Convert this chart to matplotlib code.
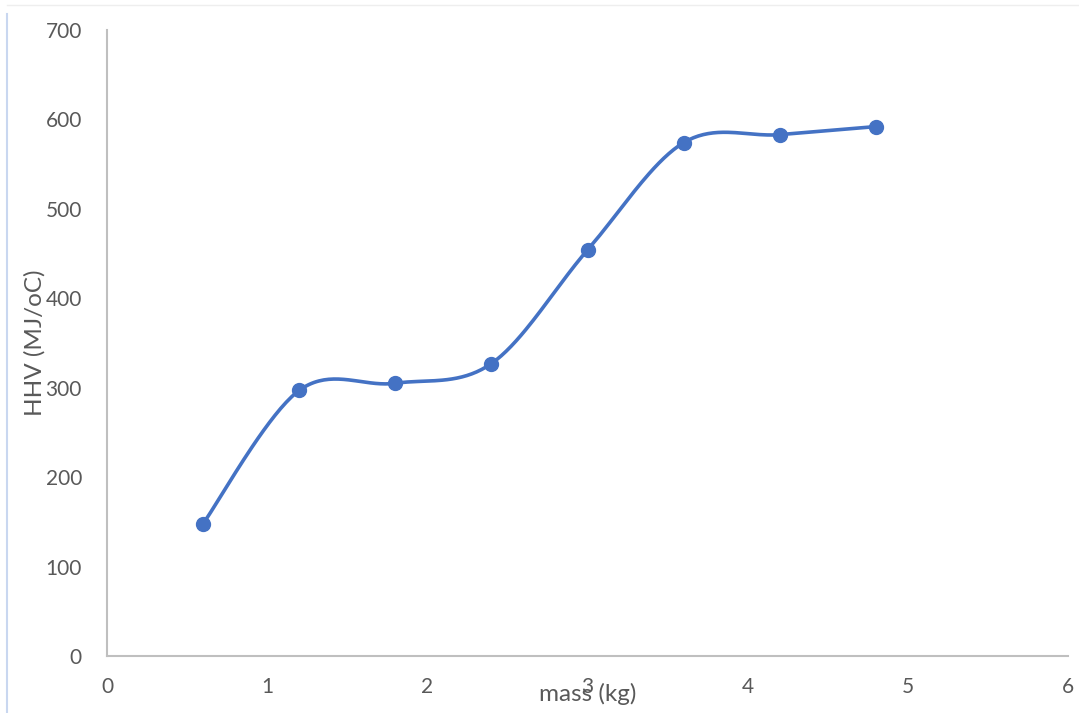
import numpy as np
import matplotlib
matplotlib.use("Agg")
import matplotlib.pyplot as plt
from matplotlib.lines import Line2D

mass = [0.6, 1.2, 1.8, 2.4, 3.0, 3.6, 4.2, 4.8]
hhv = [148, 297, 305, 327, 454, 574, 583, 592]
x_ticks = [0, 1, 2, 3, 4, 5, 6]
y_ticks = [0, 100, 200, 300, 400, 500, 600, 700]


def excel_smooth(xs, ys, n=40):
    xs = np.asarray(xs, float)
    ys = np.asarray(ys, float)
    P = np.column_stack([xs, ys])
    out = []
    for i in range(len(P) - 1):
        p0 = P[i - 1] if i > 0 else P[i]
        p1 = P[i]
        p2 = P[i + 1]
        p3 = P[i + 2] if i + 2 < len(P) else P[i + 1]
        c1 = p1 + (p2 - p0) / 6.0
        c2 = p2 - (p3 - p1) / 6.0
        t = np.linspace(0, 1, n)[:, None]
        seg = ((1 - t) ** 3) * p1 + 3 * ((1 - t) ** 2) * t * c1 + 3 * (1 - t) * t ** 2 * c2 + t ** 3 * p2
        out.append(seg if i == 0 else seg[1:])
    seg = np.vstack(out)
    return seg[:, 0], seg[:, 1]


plt.rcParams['font.family'] = ['Lato', 'DejaVu Sans']

fig = plt.figure(figsize=(10.79, 7.13), dpi=100)
ax = fig.add_axes([107 / 1079, 57 / 713, 961 / 1079, 626 / 713])

sx, sy = excel_smooth(mass, hhv)
blue = '#4472C4'
ax.plot(sx, sy, color=blue, lw=2.6, solid_capstyle='round', zorder=3)
ax.plot(mass, hhv, 'o', color=blue, ms=10, zorder=4)

ax.set_xlim(0, 6)
ax.set_ylim(0, 700)
ax.set_xticks(x_ticks)
ax.set_yticks(y_ticks)
ax.set_xticklabels([str(v) for v in x_ticks])
ax.set_yticklabels([str(v) for v in y_ticks])

for s in ['top', 'right']:
    ax.spines[s].set_visible(False)
for s in ['left', 'bottom']:
    ax.spines[s].set_color('#BFBFBF')
    ax.spines[s].set_linewidth(1.5)

ax.tick_params(axis='both', length=0, colors='#595959', labelsize=15)
ax.tick_params(axis='y', pad=18)
ax.tick_params(axis='x', pad=15)

ax.set_xlabel('mass (kg)', fontsize=17.5, color='#595959', labelpad=-10)
ax.set_ylabel('HHV (MJ/oC)', fontsize=17.5, color='#595959', labelpad=0)

fig.add_artist(Line2D([7 / 1079, 7 / 1079], [0, 1 - 14 / 713], transform=fig.transFigure,
                      color='#C9D7F0', lw=1.5))
fig.add_artist(Line2D([7 / 1079, 1], [1 - 5 / 713, 1 - 5 / 713], transform=fig.transFigure,
                      color='#EEEEEE', lw=1.0))

fig.savefig('out.png', dpi=100)
